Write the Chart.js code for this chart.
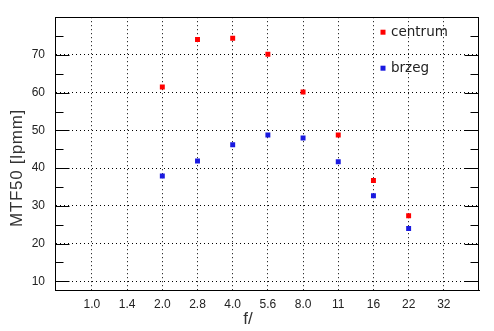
<!DOCTYPE html>
<html>
<head>
<meta charset="utf-8">
<script src="https://cdn.jsdelivr.net/npm/chart.js@4.4.1/dist/chart.umd.min.js"></script>
<style>
  html, body { margin: 0; padding: 0; background: #fff; }
  #wrap { width: 494px; height: 331px; }
</style>
</head>
<body>
<div id="wrap"><canvas id="mtfChart" width="494" height="331"></canvas></div>
<script>
// f-stops on the x axis (category order)
const fStops = ['1.0', '1.4', '2.0', '2.8', '4.0', '5.6', '8.0', '11', '16', '22', '32'];
// MTF50 values in lpmm, one per f-stop (null = not measured)
const centrum = [null, null, 61.5, 74.1, 74.4, 70.2, 60.2, 48.8, 36.7, 27.4, null];
const brzeg   = [null, null, 37.9, 41.9, 46.2, 48.8, 48.0, 41.7, 32.7, 24.0, null];
const yMajorTicks = [10, 20, 30, 40, 50, 60, 70];
const yMinorTicks = [15, 25, 35, 45, 55, 65, 75];

function toPoints(values) {
    return values
        .map((v, i) => ({ x: i, y: v }))
        .filter(p => p.y !== null);
}

// box, inward ticks, legend and axis titles
const decorations = {
    id: 'decorations',
    afterDraw(chart) {
        const { ctx, chartArea: a, scales: { y } } = chart;
        const left = Math.round(a.left) + 0.5;
        const right = Math.round(a.right) - 0.5;
        ctx.save();
        ctx.strokeStyle = '#000';
        ctx.lineWidth = 1;
        ctx.strokeRect(left, Math.round(a.top) + 0.5, right - left, Math.round(a.bottom) - Math.round(a.top));

        const tick = (v, len) => {
            const py = Math.round(y.getPixelForValue(v)) + 0.5;
            ctx.beginPath();
            ctx.moveTo(left, py); ctx.lineTo(left + len, py);
            ctx.moveTo(right, py); ctx.lineTo(right - len, py);
            ctx.stroke();
        };
        yMajorTicks.forEach(v => tick(v, 14));
        yMinorTicks.forEach(v => tick(v, 8));

        // legend inside the plot
        ctx.font = '13.5px "DejaVu Sans"';
        ctx.textBaseline = 'middle';
        chart.data.datasets.forEach((ds, i) => {
            const lx = a.right - 96;
            const ly = a.top + 15 + i * 36;
            ctx.fillStyle = ds.backgroundColor;
            ctx.fillRect(lx - 2.5, ly - 2.5, 5, 5);
            ctx.fillStyle = '#222';
            ctx.fillText(ds.label, lx + 8, ly);
        });

        // axis titles
        ctx.fillStyle = '#333';
        ctx.font = '17px "Liberation Sans"';
        ctx.textAlign = 'center';
        ctx.fillText('f/', chart.width / 2 + 1, 319);
        ctx.letterSpacing = '0.7px';
        ctx.translate(17, 168);
        ctx.rotate(-Math.PI / 2);
        ctx.fillText('MTF50 [lpmm]', 0, 0);
        ctx.restore();
    }
};

const ctx = document.getElementById('mtfChart').getContext('2d');
new Chart(ctx, {
    type: 'scatter',
    data: {
        datasets: [
            {
                label: 'centrum',
                data: toPoints(centrum),
                backgroundColor: '#ff0000',
                pointStyle: 'rect',
                pointRadius: 3.5,
                pointBorderWidth: 0
            },
            {
                label: 'brzeg',
                data: toPoints(brzeg),
                backgroundColor: '#1a1ae0',
                pointStyle: 'rect',
                pointRadius: 3.5,
                pointBorderWidth: 0
            }
        ]
    },
    options: {
        responsive: false,
        animation: false,
        layout: { padding: { top: 16, right: 15, left: 0, bottom: 0 } },
        plugins: {
            legend: { display: false },
            tooltip: { enabled: false }
        },
        scales: {
            x: {
                type: 'linear',
                min: -1.05,
                max: 11,
                afterBuildTicks: scale => {
                    scale.ticks = fStops.map((_, i) => ({ value: i }));
                },
                afterFit: scale => { scale.height = 41; },
                ticks: {
                    callback: v => fStops[v],
                    color: '#222',
                    font: { family: 'Liberation Sans', size: 12 },
                    padding: 7,
                    maxRotation: 0,
                    autoSkip: false
                },
                grid: { color: '#000', drawTicks: false, lineWidth: 1 },
                border: { display: true, color: '#000', width: 1, dash: [1, 3] }
            },
            y: {
                min: 7.7,
                max: 80,
                afterBuildTicks: scale => {
                    scale.ticks = yMajorTicks.map(v => ({ value: v }));
                },
                afterFit: scale => { scale.width = 55; },
                ticks: {
                    color: '#222',
                    font: { family: 'Liberation Sans', size: 12 },
                    padding: 10
                },
                grid: { color: '#000', drawTicks: false, lineWidth: 1 },
                border: { display: true, color: '#000', width: 1, dash: [1, 3] }
            }
        }
    },
    plugins: [decorations]
});
</script>
</body>
</html>
